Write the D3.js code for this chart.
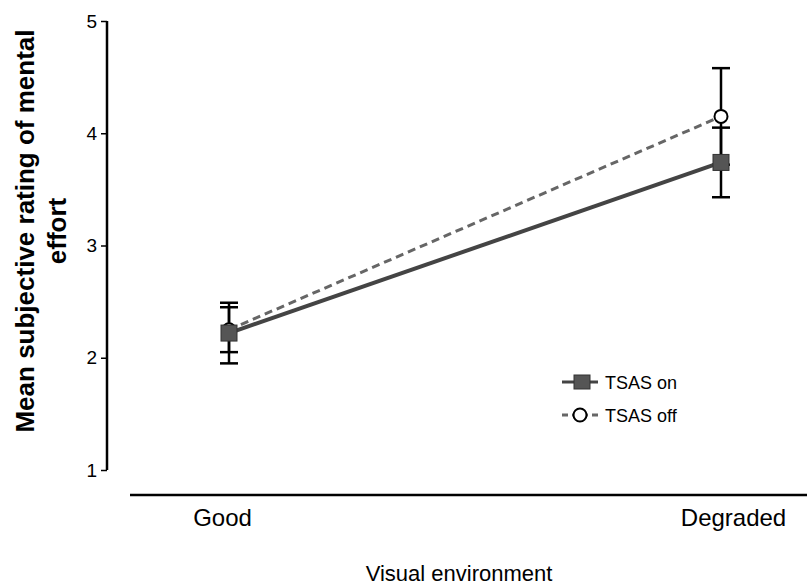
<!DOCTYPE html>
<html><head><meta charset="utf-8">
<script src="https://cdn.jsdelivr.net/npm/d3@7"></script>
<style>body{margin:0;background:#fff}svg{display:block}text{font-family:Arial,"Liberation Sans",sans-serif}</style>
</head><body>
<script>
const categories = ["Good", "Degraded"];
const onMean = [2.22, 3.74];
const onErr = [0.27, 0.31];
const offMean = [2.25, 4.15];
const offErr = [0.20, 0.43];
const yTicks = [1, 2, 3, 4, 5];
const seriesNames = ["TSAS on", "TSAS off"];

const W = 807, H = 586;
const svg = d3.select("body").append("svg").attr("width", W).attr("height", H);

const x = d3.scalePoint().domain(categories).range([229, 721]).padding(0);
const y = d3.scaleLinear().domain([1, 5]).range([470, 21]);

// y axis
const yAxis = svg.append("g").attr("transform", "translate(107,0)")
  .call(d3.axisLeft(y).tickValues(yTicks).tickSize(6).tickPadding(4).tickFormat(d3.format("d")));
yAxis.attr("font-size", null).attr("font-family", null);
yAxis.select(".domain").attr("stroke", "#000").attr("stroke-width", 2.5).attr("d", "M0,21V470");
yAxis.selectAll(".tick line").attr("stroke", "#000").attr("stroke-width", 1.5);
yAxis.selectAll(".tick text").style("font-size", "19px").attr("fill", "#000");

// x axis
const xAxis = svg.append("g").attr("transform", "translate(0,495)")
  .call(d3.axisBottom(x).tickSize(0).tickPadding(14));
xAxis.attr("font-size", null).attr("font-family", null);
xAxis.select(".domain").attr("stroke", "#000").attr("stroke-width", 2.5).attr("d", "M130,0H807");
xAxis.selectAll(".tick text").style("font-size", "24px").attr("fill", "#000")
  .attr("dx", (d, i) => i === 0 ? -7 : 12);

// axis titles
svg.append("text").attr("x", 459).attr("y", 581).attr("text-anchor", "middle")
  .style("font-size", "22px").text("Visual environment");
const yt = svg.append("text").attr("transform", "translate(0,231) rotate(-90)")
  .attr("text-anchor", "middle").style("font-size", "26px").attr("font-weight", "bold");
yt.append("tspan").attr("x", 0).attr("y", 34).text("Mean subjective rating of mental");
yt.append("tspan").attr("x", 0).attr("y", 66).text("effort");

// error bars
function errBars(means, errs) {
  const g = svg.append("g").attr("stroke", "#000").attr("stroke-width", 2.5);
  categories.forEach((c, i) => {
    const cx = x(c), top = y(means[i] + errs[i]), bot = y(means[i] - errs[i]);
    g.append("line").attr("x1", cx).attr("x2", cx).attr("y1", top).attr("y2", bot);
    g.append("line").attr("x1", cx - 9).attr("x2", cx + 9).attr("y1", top).attr("y2", top);
    g.append("line").attr("x1", cx - 9).attr("x2", cx + 9).attr("y1", bot).attr("y2", bot);
  });
}
errBars(onMean, onErr);
errBars(offMean, offErr);

const line = d3.line().x(d => x(d[0])).y(d => y(d[1]));
svg.append("path").datum(categories.map((c, i) => [c, offMean[i]]))
  .attr("d", line).attr("fill", "none").attr("stroke", "#666").attr("stroke-width", 3)
  .attr("stroke-dasharray", "8,5");
svg.append("path").datum(categories.map((c, i) => [c, onMean[i]]))
  .attr("d", line).attr("fill", "none").attr("stroke", "#444").attr("stroke-width", 4);

// markers
svg.append("g").selectAll("circle").data(categories.map((c, i) => [c, offMean[i]])).enter().append("circle")
  .attr("cx", d => x(d[0])).attr("cy", d => y(d[1])).attr("r", 6.5)
  .attr("fill", "#fff").attr("stroke", "#000").attr("stroke-width", 2);
svg.append("g").selectAll("rect").data(categories.map((c, i) => [c, onMean[i]])).enter().append("rect")
  .attr("x", d => x(d[0]) - 8).attr("y", d => y(d[1]) - 8).attr("width", 16).attr("height", 16)
  .attr("fill", "#555").attr("stroke", "#333").attr("stroke-width", 1);

// legend
const lg = svg.append("g");
lg.append("line").attr("x1", 562).attr("x2", 598).attr("y1", 382).attr("y2", 382)
  .attr("stroke", "#444").attr("stroke-width", 3);
lg.append("rect").attr("x", 574).attr("y", 375).attr("width", 16).attr("height", 14)
  .attr("fill", "#555").attr("stroke", "#333");
lg.append("text").attr("x", 605).attr("y", 389).style("font-size", "18px").text(seriesNames[0]);
lg.append("line").attr("x1", 562).attr("x2", 598).attr("y1", 415).attr("y2", 415)
  .attr("stroke", "#666").attr("stroke-width", 3).attr("stroke-dasharray", "6,4");
lg.append("circle").attr("cx", 580).attr("cy", 415).attr("r", 6.5)
  .attr("fill", "#fff").attr("stroke", "#000").attr("stroke-width", 2);
lg.append("text").attr("x", 605).attr("y", 422).style("font-size", "18px").text(seriesNames[1]);
</script>
</body></html>
